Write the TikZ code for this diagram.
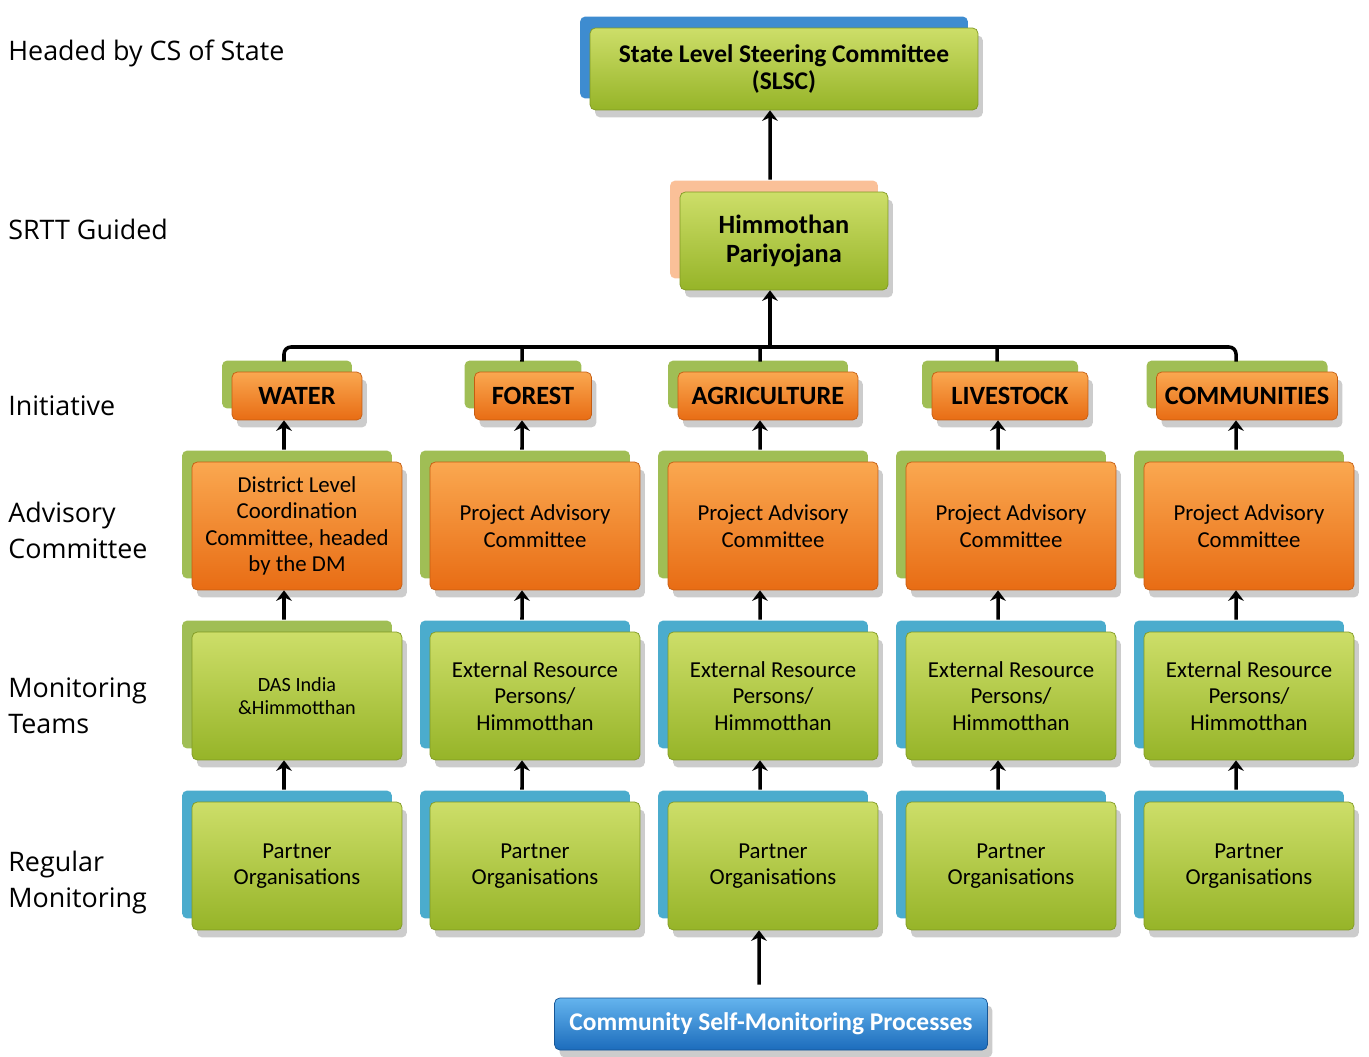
\documentclass[tikz,border=0pt]{standalone}
\usepackage{fontspec}
\setmainfont{Carlito}
\newfontfamily\labelfont{Open Sans}
\usetikzlibrary{shadows, arrows.meta, calc}

\definecolor{leafTop}{RGB}{205,222,105}
\definecolor{leafBot}{RGB}{150,180,40}
\definecolor{leafBack}{RGB}{160,190,85}
\definecolor{rustTop}{RGB}{250,168,80}
\definecolor{rustBot}{RGB}{232,108,20}
\definecolor{aquaBack}{RGB}{75,172,205}
\definecolor{peachBack}{RGB}{250,192,152}
\definecolor{skyBack}{RGB}{62,140,208}
\definecolor{poolTop}{RGB}{100,180,238}
\definecolor{poolBot}{RGB}{28,108,188}

\tikzset{
  dotshade/.style={general shadow={fill=black!20, shadow xshift=0.1cm, shadow yshift=-0.15cm}},
  backbox/.style={general shadow={fill=#1, shadow xshift=-0.2cm, shadow yshift=0.23cm}},
  greenbox/.style={rounded corners=3pt, top color=leafTop, bottom color=leafBot,
    draw=leafBot!85!black, align=center, inner sep=0pt},
  orangebox/.style={rounded corners=3pt, top color=rustTop, bottom color=rustBot,
    draw=rustBot!85!black, align=center, inner sep=0pt},
  colbox/.style={minimum width=4.2cm, minimum height=2.56cm, font=\fontsize{13}{15}\selectfont},
  initbox/.style={minimum height=0.96cm, font=\bfseries\fontsize{15}{17}\selectfont},
  rowlabel/.style={anchor=west, align=left, inner sep=0pt, font=\labelfont\fontsize{15.3}{20.5}\selectfont},
  arr/.style={line width=2pt, -{Stealth[length=6pt, width=9pt, inset=2pt]}},
  busline/.style={line width=2pt}
}

\begin{document}
\begin{tikzpicture}[x=0.02cm, y=-0.02cm]
    \useasboundingbox (0,0) rectangle (1369,1057);

    % row labels on the left
        \node[rowlabel] (lab1) at (8,53) {Headed by CS of State};
        \node[rowlabel] (lab2) at (8,229) {SRTT Guided};
        \node[rowlabel] (lab3) at (8,406) {Initiative};
        \node[rowlabel] (lab4) at (8,530) {Advisory\\Committee};
        \node[rowlabel] (lab5) at (8,706) {Monitoring\\Teams};
        \node[rowlabel] (lab6) at (8,883) {Regular\\Monitoring};

    % top of the tree
        \node[greenbox, dotshade, backbox=skyBack, minimum width=7.76cm, minimum height=1.64cm,
            font=\bfseries\fontsize{14.5}{15.4}\selectfont] (slsc) at (784,69)
            {State Level Steering Committee\\(SLSC)};
        \node[greenbox, dotshade, backbox=peachBack, minimum width=4.16cm, minimum height=1.96cm,
            font=\bfseries\fontsize{15}{16}\selectfont] (himm) at (784,241)
            {Himmothan\\Pariyojana};

    % initiatives
        \node[orangebox, initbox, dotshade, backbox=leafBack, minimum width=2.6cm] (init1) at (297,396) {WATER};
        \node[orangebox, initbox, dotshade, backbox=leafBack, minimum width=2.34cm] (init2) at (533,396) {FOREST};
        \node[orangebox, initbox, dotshade, backbox=leafBack, minimum width=3.6cm] (init3) at (768,396) {AGRICULTURE};
        \node[orangebox, initbox, dotshade, backbox=leafBack, minimum width=3.12cm] (init4) at (1010,396) {LIVESTOCK};
        \node[orangebox, initbox, dotshade, backbox=leafBack, minimum width=3.62cm] (init5) at (1247,396) {COMMUNITIES};

    % advisory committees
        \node[orangebox, colbox, dotshade, backbox=leafBack] (adv1) at (297,526) {District Level\\Coordination\\Committee, headed\\by the DM};
        \node[orangebox, colbox, dotshade, backbox=leafBack] (adv2) at (535,526) {Project Advisory\\Committee};
        \node[orangebox, colbox, dotshade, backbox=leafBack] (adv3) at (773,526) {Project Advisory\\Committee};
        \node[orangebox, colbox, dotshade, backbox=leafBack] (adv4) at (1011,526) {Project Advisory\\Committee};
        \node[orangebox, colbox, dotshade, backbox=leafBack] (adv5) at (1249,526) {Project Advisory\\Committee};

    % monitoring teams
        \node[greenbox, colbox, dotshade, backbox=leafBack, font=\fontsize{11.5}{13.5}\selectfont] (mon1) at (297,696) {DAS India\\\&Himmotthan};
        \node[greenbox, colbox, dotshade, backbox=aquaBack] (mon2) at (535,696) {External Resource\\Persons/\\Himmotthan};
        \node[greenbox, colbox, dotshade, backbox=aquaBack] (mon3) at (773,696) {External Resource\\Persons/\\Himmotthan};
        \node[greenbox, colbox, dotshade, backbox=aquaBack] (mon4) at (1011,696) {External Resource\\Persons/\\Himmotthan};
        \node[greenbox, colbox, dotshade, backbox=aquaBack] (mon5) at (1249,696) {External Resource\\Persons/\\Himmotthan};

    % regular monitoring
        \node[greenbox, colbox, dotshade, backbox=aquaBack] (reg1) at (297,866) {Partner\\Organisations};
        \node[greenbox, colbox, dotshade, backbox=aquaBack] (reg2) at (535,866) {Partner\\Organisations};
        \node[greenbox, colbox, dotshade, backbox=aquaBack] (reg3) at (773,866) {Partner\\Organisations};
        \node[greenbox, colbox, dotshade, backbox=aquaBack] (reg4) at (1011,866) {Partner\\Organisations};
        \node[greenbox, colbox, dotshade, backbox=aquaBack] (reg5) at (1249,866) {Partner\\Organisations};

    % community processes
        \node[rounded corners=3pt, top color=poolTop, bottom color=poolBot, draw=poolBot!80!black, dotshade,
            minimum width=8.66cm, minimum height=1.04cm, text=white,
            font=\bfseries\fontsize{14.5}{16}\selectfont] (comm) at (771,1024) {Community Self-Monitoring Processes};

    % connectors
        \coordinate (bus) at (770,347);
        \draw[arr] ([shift={(-14,-12)}]himm.north) -- ([xshift=-0.28cm]himm.north |- slsc.south);
        \draw[arr] (bus) -- (bus |- himm.south);
        \draw[busline, rounded corners=4pt] ([shift={(-13,-10)}]init1.north) |- (bus) -| ([shift={(-11,-10)}]init5.north);
        \draw[busline] ([shift={(-11,-10)}]init2.north) -- ([xshift=-0.22cm]init2.north |- bus);
        \draw[busline] ([shift={(-8,-10)}]init3.north) -- ([xshift=-0.16cm]init3.north |- bus);
        \draw[busline] ([shift={(-13,-10)}]init4.north) -- ([xshift=-0.26cm]init4.north |- bus);

        \draw[arr] ([shift={(-13,-12)}]adv1.north) -- ([xshift=-0.26cm]adv1.north |- init1.south);
        \draw[arr] ([shift={(-13,-12)}]adv2.north) -- ([xshift=-0.26cm]adv2.north |- init2.south);
        \draw[arr] ([shift={(-13,-12)}]adv3.north) -- ([xshift=-0.26cm]adv3.north |- init3.south);
        \draw[arr] ([shift={(-13,-12)}]adv4.north) -- ([xshift=-0.26cm]adv4.north |- init4.south);
        \draw[arr] ([shift={(-13,-12)}]adv5.north) -- ([xshift=-0.26cm]adv5.north |- init5.south);

        \draw[arr] ([shift={(-13,-12)}]mon1.north) -- ([xshift=-0.26cm]mon1.north |- adv1.south);
        \draw[arr] ([shift={(-13,-12)}]mon2.north) -- ([xshift=-0.26cm]mon2.north |- adv2.south);
        \draw[arr] ([shift={(-13,-12)}]mon3.north) -- ([xshift=-0.26cm]mon3.north |- adv3.south);
        \draw[arr] ([shift={(-13,-12)}]mon4.north) -- ([xshift=-0.26cm]mon4.north |- adv4.south);
        \draw[arr] ([shift={(-13,-12)}]mon5.north) -- ([xshift=-0.26cm]mon5.north |- adv5.south);

        \draw[arr] ([shift={(-13,-12)}]reg1.north) -- ([xshift=-0.26cm]reg1.north |- mon1.south);
        \draw[arr] ([shift={(-13,-12)}]reg2.north) -- ([xshift=-0.26cm]reg2.north |- mon2.south);
        \draw[arr] ([shift={(-13,-12)}]reg3.north) -- ([xshift=-0.26cm]reg3.north |- mon3.south);
        \draw[arr] ([shift={(-13,-12)}]reg4.north) -- ([xshift=-0.26cm]reg4.north |- mon4.south);
        \draw[arr] ([shift={(-13,-12)}]reg5.north) -- ([xshift=-0.26cm]reg5.north |- mon5.south);

        \draw[arr] ([shift={(-12,-13)}]comm.north) -- ([xshift=-0.24cm]comm.north |- reg3.south);
\end{tikzpicture}
\end{document}
